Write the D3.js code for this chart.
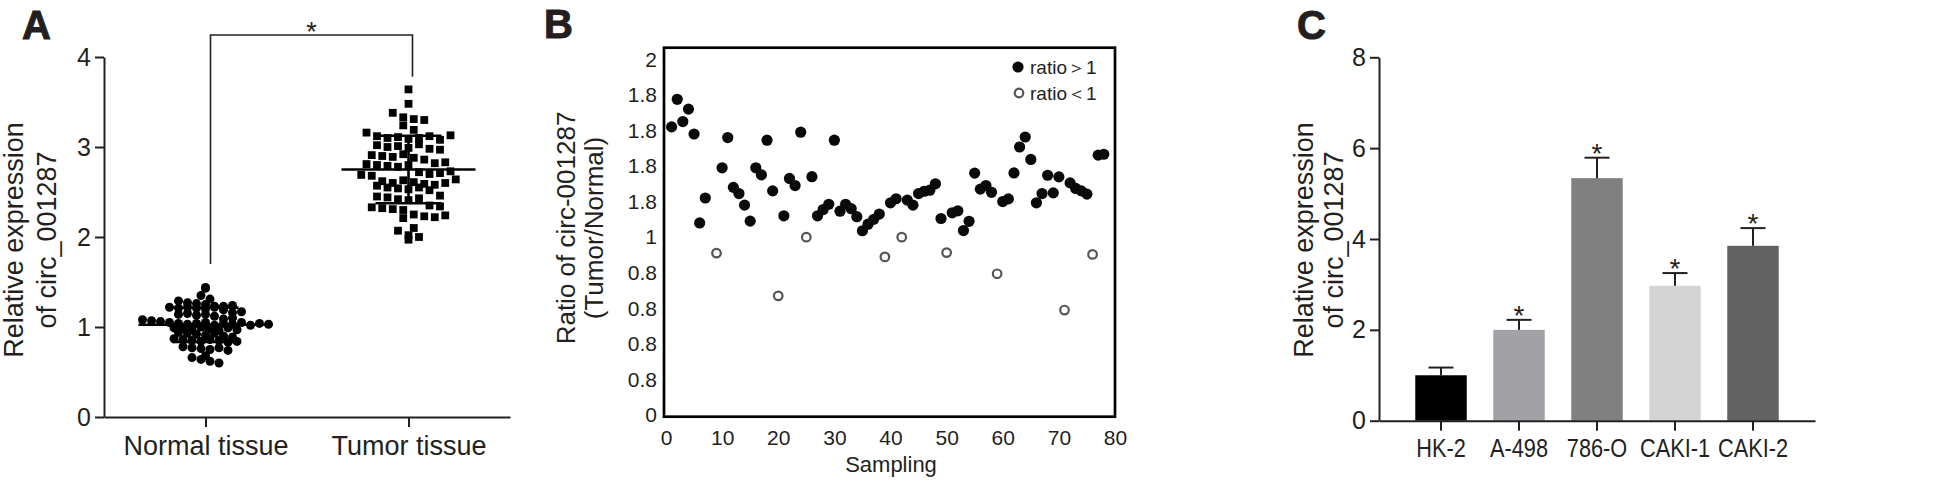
<!DOCTYPE html>
<html>
<head>
<meta charset="utf-8">
<script src="https://cdn.jsdelivr.net/npm/d3@7"></script>
<style>
  body { margin: 0; background: #fff; }
  svg { display: block; font-family: "Liberation Sans", Arial, Helvetica, sans-serif; }
  .axis path, .axis line { stroke: #231f20; stroke-width: 2; }
  .axis text { fill: #231f20; }
</style>
</head>
<body>
<svg id="fig" width="1946" height="490"></svg>
<script>
// ---- panel A : scatter dot plot ----
const groupsA = ["Normal tissue", "Tumor tissue"];
const ticksA = [0, 1, 2, 3, 4];
const normalValues = [
  1.44, 1.43, 1.35, 1.31, 1.29, 1.27, 1.26, 1.25,
  1.23, 1.22, 1.21, 1.22, 1.23, 1.21, 1.20, 1.22, 1.19, 1.24,
  1.16, 1.14, 1.15, 1.13, 1.17, 1.14, 1.12,
  1.09, 1.08, 1.07, 1.10, 1.06,
  1.05, 1.04, 1.03, 1.04, 1.05, 1.02, 1.04, 1.03, 1.05, 1.02, 1.04, 1.03,
  0.99, 0.98, 0.97, 1.00, 0.98, 0.96, 0.99, 0.97,
  0.94, 0.93, 0.92, 0.91, 0.93, 0.90, 0.89,
  0.87, 0.86, 0.85, 0.84, 0.86, 0.85, 0.83, 0.84,
  0.78, 0.77, 0.76, 0.75, 0.77, 0.74,
  0.68, 0.66, 0.64, 0.62, 0.60
];
const tumorValues = [
  3.64, 3.48, 3.38, 3.33, 3.31, 3.30, 3.24, 3.19, 3.16,
  3.12, 3.10, 3.11, 3.09, 3.10, 3.12, 3.08, 3.13,
  3.02, 3.00, 3.01, 2.99, 3.03, 2.98, 2.97,
  2.91, 2.90, 2.89, 2.92, 2.88, 2.86,
  2.81, 2.80, 2.82, 2.79, 2.83, 2.78, 2.80,
  2.72, 2.70, 2.71, 2.69, 2.73, 2.68,
  2.62, 2.60, 2.63, 2.61, 2.59, 2.58, 2.60, 2.64, 2.57,
  2.55, 2.54, 2.53, 2.55, 2.52,
  2.45, 2.44, 2.42, 2.41, 2.43, 2.46,
  2.35, 2.33, 2.32, 2.34, 2.31, 2.30,
  2.25, 2.23, 2.21, 2.22, 2.24,
  2.10, 2.07, 2.02, 2.00, 1.97
];
const meanA = [1.025, 2.75];
const sdA = [0.19, 0.375];

// ---- panel B : ratio per sample ----
const ratioTicks = [0, 0.2, 0.4, 0.6, 0.8, 1, 1.2, 1.4, 1.6, 1.8, 2];
const ratioTickLabels = ["0", "0.8", "0.8", "0.8", "0.8", "1", "1.8", "1.8", "1.8", "1.8", "2"];
const samplingTicks = [0, 10, 20, 30, 40, 50, 60, 70, 80];
const highX = [1, 2, 3, 4, 5, 6, 7, 10, 11, 12, 13, 14, 15, 16, 17, 18, 19, 21, 22, 23, 24,
  26, 27, 28, 29, 30, 31, 32, 33, 34, 35, 36, 37, 38, 40, 41, 43, 44, 45, 46, 47, 48, 49,
  51, 52, 53, 54, 55, 56, 57, 58, 60, 61, 62, 63, 64, 65, 66, 67, 68, 69, 70, 72, 73, 74, 75, 77, 78];
const highRatio = [1.62, 1.775, 1.65, 1.72, 1.58, 1.08, 1.22, 1.39, 1.56, 1.28, 1.245, 1.18, 1.09,
  1.39, 1.35, 1.545, 1.26, 1.12, 1.33, 1.29, 1.59,
  1.34, 1.12, 1.155, 1.185, 1.545, 1.146, 1.185, 1.16, 1.115, 1.036, 1.073, 1.10, 1.13,
  1.193, 1.216, 1.208, 1.18, 1.245, 1.258, 1.264, 1.30, 1.105,
  1.137, 1.148, 1.037, 1.089, 1.36, 1.27, 1.29, 1.252, 1.20, 1.215, 1.361, 1.507, 1.563,
  1.437, 1.193, 1.245, 1.348, 1.249, 1.339, 1.305, 1.274, 1.26, 1.242, 1.461, 1.466];
const lowX = [9, 20, 25, 39, 42, 50, 59, 71, 76];
const lowRatio = [0.91, 0.67, 1.0, 0.889, 1.0, 0.913, 0.794, 0.59, 0.903];

// ---- panel C : cell lines ----
const cellLines = ["HK-2", "A-498", "786-O", "CAKI-1", "CAKI-2"];
const cellMeans = [1.0, 2.0, 5.34, 2.97, 3.85];
const cellSD = [0.17, 0.22, 0.45, 0.28, 0.39];
const cellStars = [false, true, true, true, true];
const cellColors = ["#000000", "#a1a1a6", "#808080", "#d4d4d4", "#626262"];
const ticksC = [0, 2, 4, 6, 8];

const ink = "#231f20";
const svg = d3.select("#fig");

function yTitle(x, yc, lines, size) {
  lines.forEach((t, i) => {
    svg.append("text")
      .attr("transform", `translate(${x[i]},${yc}) rotate(-90)`)
      .attr("text-anchor", "middle")
      .attr("font-size", size)
      .attr("fill", ink)
      .text(t);
  });
}

function panelLetter(txt, x, y) {
  svg.append("text").attr("x", x).attr("y", y)
    .attr("font-size", 40).attr("font-weight", "bold").attr("fill", ink)
    .attr("stroke", ink).attr("stroke-width", 1)
    .text(txt);
}

// rows of points placed side by side, like the dot plot
function swarm(values, binSize, gap) {
  const rows = d3.group(values.map(v => ({ v })), d => Math.round(d.v / binSize));
  const out = [];
  for (const [, pts] of rows) {
    const n = pts.length;
    pts.forEach((p, k) => out.push({ v: p.v, dx: (k - (n - 1) / 2) * gap }));
  }
  return out;
}

function drawPanelA() {
  const y = d3.scaleLinear().domain([0, 4]).range([417, 57]);
  const x = d3.scalePoint().domain(groupsA).range([104, 510]).padding(0.5);

  svg.append("g").attr("class", "axis")
    .attr("transform", "translate(104,0)")
    .call(d3.axisLeft(y).tickValues(ticksA).tickFormat(d3.format("d"))
      .tickSize(9).tickSizeOuter(0).tickPadding(4))
    .selectAll("text").attr("font-size", 25);

  svg.append("g").attr("class", "axis")
    .attr("transform", "translate(0,417)")
    .call(d3.axisBottom(x).tickSize(10).tickSizeOuter(0).tickPadding(9))
    .selectAll("text").attr("font-size", 27);

  const normal = swarm(normalValues, 0.07, 9);
  svg.append("g").selectAll("circle").data(normal).enter()
    .append("circle")
    .attr("cx", d => x(groupsA[0]) + d.dx)
    .attr("cy", d => y(d.v))
    .attr("r", 4.5)
    .attr("fill", "#000");

  const tumor = swarm(tumorValues, 0.12, 10.5);
  svg.append("g").selectAll("rect").data(tumor).enter()
    .append("rect")
    .attr("x", d => x(groupsA[1]) + d.dx - 3.9)
    .attr("y", d => y(d.v) - 3.9)
    .attr("width", 7.8).attr("height", 7.8)
    .attr("fill", "#000");

  // mean and SD lines
  groupsA.forEach((g, i) => {
    const cx = x(g);
    const lines = svg.append("g").attr("stroke", "#000").attr("stroke-width", 2.6);
    lines.append("line").attr("x1", cx - 67).attr("x2", cx + 67)
      .attr("y1", y(meanA[i])).attr("y2", y(meanA[i]));
    [meanA[i] + sdA[i], meanA[i] - sdA[i]].forEach(v => {
      lines.append("line").attr("x1", cx - 33).attr("x2", cx + 33)
        .attr("y1", y(v)).attr("y2", y(v));
    });
    lines.append("line").attr("x1", cx).attr("x2", cx)
      .attr("y1", y(meanA[i] + sdA[i])).attr("y2", y(meanA[i] - sdA[i]));
  });

  // significance bracket
  const x0 = x(groupsA[0]) + 5, x1 = x(groupsA[1]) + 4;
  svg.append("path")
    .attr("d", `M${x0},${y(1.7)}V35H${x1}V${y(3.78)}`)
    .attr("fill", "none").attr("stroke", ink).attr("stroke-width", 1.6);
  svg.append("text").attr("x", (x0 + x1) / 2).attr("y", 41)
    .attr("text-anchor", "middle").attr("font-size", 27).attr("fill", ink).text("*");

  yTitle([23, 56], 240, ["Relative expression", "of circ_001287"], 27);
  panelLetter("A", 22, 39);
}

function drawPanelB() {
  const x = d3.scaleLinear().domain([0, 80]).range([666, 1115]);
  const y = d3.scaleLinear().domain([0, 2]).range([415, 59.3]);

  svg.append("rect").attr("x", 664).attr("y", 47.7).attr("width", 451).attr("height", 369)
    .attr("fill", "none").attr("stroke", "#000").attr("stroke-width", 2.7);

  const ay = svg.append("g").attr("class", "axis").attr("transform", "translate(664,0)")
    .call(d3.axisLeft(y).tickValues(ratioTicks).tickFormat((d, i) => ratioTickLabels[i])
      .tickSize(0).tickPadding(7));
  ay.select(".domain").remove();
  ay.selectAll("text").attr("font-size", 21);

  const ax = svg.append("g").attr("class", "axis").attr("transform", "translate(0,417)")
    .call(d3.axisBottom(x).tickValues(samplingTicks).tickSize(0).tickPadding(13));
  ax.select(".domain").remove();
  ax.selectAll("text").attr("font-size", 21);

  svg.append("g").selectAll("circle").data(highX).enter()
    .append("circle")
    .attr("cx", d => x(d))
    .attr("cy", (d, i) => y(highRatio[i]))
    .attr("r", 5.6).attr("fill", "#0a0a0a");

  svg.append("g").selectAll("circle").data(lowX).enter()
    .append("circle")
    .attr("cx", d => x(d))
    .attr("cy", (d, i) => y(lowRatio[i]))
    .attr("r", 4.3).attr("fill", "#fff")
    .attr("stroke", "#555").attr("stroke-width", 2.2);

  // legend
  svg.append("circle").attr("cx", 1018).attr("cy", 67).attr("r", 5.6).attr("fill", "#0a0a0a");
  svg.append("circle").attr("cx", 1019).attr("cy", 93).attr("r", 4.3)
    .attr("fill", "#fff").attr("stroke", "#555").attr("stroke-width", 2.2);
  svg.append("text").attr("x", 1030).attr("y", 74).attr("font-size", 19).attr("fill", ink).text("ratio＞1");
  svg.append("text").attr("x", 1030).attr("y", 100).attr("font-size", 19).attr("fill", ink).text("ratio＜1");

  svg.append("text").attr("x", 891).attr("y", 472).attr("text-anchor", "middle")
    .attr("font-size", 22).attr("fill", ink).text("Sampling");
  yTitle([575, 603], 228, ["Ratio of circ-001287", "(Tumor/Normal)"], 26);
  panelLetter("B", 544, 38);
}

function drawPanelC() {
  const y = d3.scaleLinear().domain([0, 8]).range([420.7, 57.3]);
  const x = d3.scaleBand().domain(cellLines).range([1379, 1815])
    .paddingInner(0.34).paddingOuter(0.465);

  svg.append("g").selectAll("rect").data(cellLines).enter()
    .append("rect")
    .attr("x", d => x(d))
    .attr("y", (d, i) => y(cellMeans[i]))
    .attr("width", x.bandwidth())
    .attr("height", (d, i) => y(0) - y(cellMeans[i]))
    .attr("fill", (d, i) => cellColors[i]);

  const err = svg.append("g").attr("stroke", ink).attr("stroke-width", 2);
  cellLines.forEach((c, i) => {
    const cx = x(c) + x.bandwidth() / 2;
    const top = y(cellMeans[i] + cellSD[i]);
    err.append("line").attr("x1", cx).attr("x2", cx).attr("y1", y(cellMeans[i])).attr("y2", top);
    err.append("line").attr("x1", cx - 12.5).attr("x2", cx + 12.5).attr("y1", top).attr("y2", top);
    if (cellStars[i]) {
      svg.append("text").attr("x", cx).attr("y", top + 5).attr("text-anchor", "middle")
        .attr("font-size", 28).attr("fill", ink).text("*");
    }
  });

  svg.append("g").attr("class", "axis").attr("transform", "translate(1379,0)")
    .call(d3.axisLeft(y).tickValues(ticksC).tickSize(9).tickSizeOuter(0).tickPadding(4))
    .selectAll("text").attr("font-size", 25);

  svg.append("g").attr("class", "axis").attr("transform", "translate(0,420.7)")
    .call(d3.axisBottom(x).tickSize(10).tickSizeOuter(0).tickPadding(9))
    .selectAll("text").attr("font-size", 25).attr("transform", "scale(0.87,1)");

  yTitle([1313, 1343], 240, ["Relative expression", "of circ_001287"], 27);
  panelLetter("C", 1297, 39);
}

drawPanelA();
drawPanelB();
drawPanelC();
</script>
</body>
</html>
